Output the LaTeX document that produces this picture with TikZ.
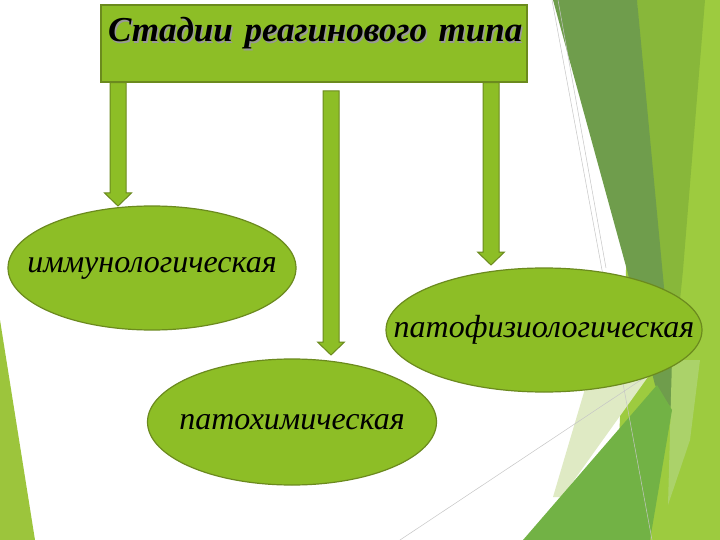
\documentclass[tikz,border=0pt]{standalone}
\usepackage{fontspec}
\setmainfont{Liberation Serif}
\usetikzlibrary{calc,shapes.geometric}
\definecolor{boxgreen}{HTML}{8DBE26}
\definecolor{boxedge}{HTML}{6B8A1E}
\definecolor{bgdark}{HTML}{6F9D4C}
\definecolor{bgmid}{HTML}{88B73A}
\definecolor{bglight}{HTML}{9DCB3F}
\definecolor{bgbottom}{HTML}{72B245}
\definecolor{bgpale}{HTML}{DFEAC4}
\definecolor{bgsliver}{HTML}{ABD26A}
\definecolor{bgleft}{HTML}{9CC53C}
\tikzset{
  stagebox/.style={ellipse, fill=boxgreen, draw=boxedge, line width=1.2pt,
    minimum width=288pt, minimum height=124pt, inner sep=0pt,
    font=\itshape\fontsize{32}{32}\selectfont},
  titlebox/.style={rectangle, fill=boxgreen, draw=boxedge, line width=1.2pt,
    minimum width=426pt, text width=412pt, align=left, inner xsep=7pt, inner ysep=0pt,
    text height=37pt, text depth=40pt,
    font=\bfseries\itshape\fontsize{35}{35}\selectfont},
  arrowfill/.style={fill=boxgreen, draw=boxedge, line width=1pt, line join=miter},
  bgline/.style={draw=gray!45, line width=0.5pt}
}
\newcommand\blockarr[2]{%
  \path[arrowfill] let \p1=(#1), \p2=(#2) in
    (\x1-8pt,\y1) -- (\x1+8pt,\y1) -- (\x1+8pt,\y2+13pt) -- (\x1+13.5pt,\y2+13pt)
    -- (\x1,\y2) -- (\x1-13.5pt,\y2+13pt) -- (\x1-8pt,\y2+13pt) -- cycle;}
\newcommand\ctext[1]{\makebox[0pt]{#1}}
\begin{document}
\begin{tikzpicture}[x=1pt,y=-1pt]
\useasboundingbox (0,0) rectangle (720,540);
\fill[white] (0,0) rectangle (720,540);
% background facets
\fill[bglight] (637,0) -- (720,0) -- (720,540) -- (615,540) -- cycle;
\fill[bgmid] (637,0) -- (705,0) -- (683,270) -- (668,420) -- cycle;
\fill[bgdark] (553,0) -- (637,0) -- (676,415) -- (655,385) -- (627,270) -- cycle;
\fill[bgsliver] (672,360) -- (700,360) -- (690,440) -- (668,505) -- cycle;
\fill[bgpale] (595,355) -- (660,360) -- (562,497) -- (553,497) -- cycle;
\fill[bgbottom] (523,540) -- (657,385) -- (672,410) -- (650,540) -- cycle;
\fill[bgleft] (0,320) -- (35,540) -- (0,540) -- cycle;
\draw[bgline] (552,0) -- (652,540);
\draw[bgline] (558,0) -- (606,268);
\draw[bgline] (400,540) -- (662,366);
% title
\node[titlebox] (title) at (314,43.5) {\makebox[0pt][l]{\raisebox{-1.5pt}{\hspace{1.5pt}\color{black!40}Стадии реагинового типа}}\makebox[0pt][l]{Стадии реагинового типа}};
% stages
\node[stagebox] (imm) at (152,268) {\ctext{иммунологическая}};
\node[stagebox, minimum width=316pt] (pfiz) at (544,330) {\ctext{патофизиологическая}};
\node[stagebox, minimum width=289pt, minimum height=126pt] (pchem) at (292,422) {\ctext{патохимическая}};
% connectors
\coordinate (s1) at (title.south -| 118,0);
\coordinate (e1) at (118,206);
\coordinate (s2) at (331,91);
\coordinate (e2) at (331,355);
\coordinate (s3) at (title.south -| 491,0);
\coordinate (e3) at (491,265);
\blockarr{s1}{e1}
\blockarr{s2}{e2}
\blockarr{s3}{e3}
\end{tikzpicture}
\end{document}
